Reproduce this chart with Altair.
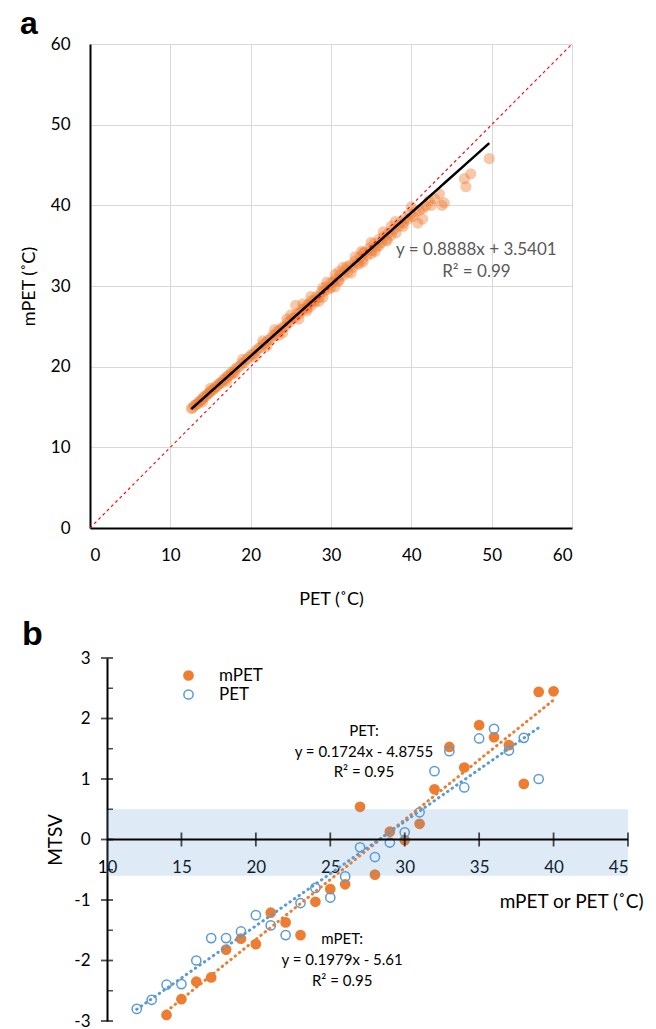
import altair as alt
import pandas as pd

# ---------------- Panel a data ----------------
pet_a = [12.6,12.8,13.0,13.2,13.4,13.6,13.8,14.0,14.2,14.4,
         14.6,14.8,15.0,15.2,15.4,15.6,15.8,16.0,16.2,16.4,
         16.6,16.8,17.0,17.2,17.4,17.6,17.8,18.0,18.0,18.3,
         18.6,18.9,19.2,19.5,19.8,20.1,20.4,20.7,21.0,21.3,
         21.6,21.9,22.2,22.5,22.8,23.1,23.4,23.7,24.0,24.3,
         24.6,24.9,25.2,25.5,25.6,25.8,26.1,26.4,26.7,27.0,
         27.0,27.3,27.5,27.6,27.9,28.0,28.2,28.5,28.8,29.0,
         29.1,29.4,29.7,30.0,30.0,30.3,30.5,30.6,30.9,31.0,
         31.2,31.5,31.8,32.0,32.1,32.4,32.7,33.0,33.3,33.5,
         33.6,33.9,34.0,34.2,34.5,34.8,35.0,35.1,35.4,35.7,
         36.0,36.0,36.3,36.6,36.9,37.2,37.5,37.8,38.1,38.4,
         38.7,39.0,39.3,39.6,39.9,40.2,40.5,40.8,41.0,41.4,
         41.4,41.8,42.2,42.5,42.9,43.5,43.8,44.1,46.6,46.8,
         47.4,49.7,
         20.5,21.5,22.0,23.0,24.0,25.0,26.0,26.5,27.5,28.5,
         29.5,30.5,31.5,32.5,33.0,34.0,35.0,35.5,36.5,37.0,
         38.0,39.0,40.0,37.5,33.8,31.0,29.0,27.0,24.5,23.5,
         19.0,17.0,15.0,14.0]
mpet_a = [14.8,14.9,15.2,15.3,15.4,15.7,15.8,16.0,16.3,16.3,
          16.6,16.7,16.9,17.1,17.2,17.5,17.5,17.8,18.0,18.0,
          18.4,18.4,18.7,18.9,18.9,19.3,19.2,19.6,19.2,19.9,
          20.0,20.4,20.5,20.9,21.2,21.5,21.6,22.0,22.3,22.4,
          22.8,23.0,23.3,23.5,23.9,24.0,24.4,24.6,24.9,25.0,
          25.5,25.6,26.0,26.1,27.6,26.6,26.6,27.1,27.2,27.6,
          27.2,27.8,27.5,28.2,28.2,28.0,28.7,28.6,29.3,29.8,
          29.3,29.9,29.6,30.4,29.8,30.5,31.4,30.9,30.7,30.6,
          31.4,31.3,32.0,32.4,31.7,32.6,32.3,33.1,32.8,32.7,
          33.6,33.3,34.1,34.2,33.8,34.7,34.0,34.4,35.3,34.9,
          35.8,35.0,35.4,36.2,35.8,36.6,36.3,37.0,36.6,37.4,
          37.9,37.8,38.4,38.3,38.9,38.6,39.2,37.8,39.4,38.3,
          39.6,39.9,40.6,40.0,40.8,41.4,40.0,40.3,43.3,42.3,
          43.9,45.8,
          21.2,23.2,22.5,24.6,24.2,26.4,25.9,27.8,28.7,28.1,
          30.5,29.9,32.3,31.6,33.6,33.0,35.4,34.3,36.7,35.6,
          38.0,37.4,39.8,37.4,34.3,31.8,28.6,26.9,25.9,23.9,
          20.9,18.2,17.3,15.6]
diag_a = [0, 60]
slope_a, icpt_a = 0.8888, 3.5401
ticks_a = [0, 10, 20, 30, 40, 50, 60]
eq_a = ["y = 0.8888x + 3.5401", "R² = 0.99"]

# ---------------- Panel b data ----------------
mpet_x = list(range(14, 41))
mpet_y = [-2.90,-2.64,-2.35,-2.28,-1.82,-1.64,-1.73,-1.21,-1.37,-1.58,
          -1.03,-0.82,-0.74,0.54,-0.58,0.13,-0.01,0.26,0.83,1.53,
          1.19,1.89,1.69,1.56,0.92,2.44,2.45]
pet_x = list(range(12, 40))
pet_y = [-2.80,-2.65,-2.40,-2.39,-2.00,-1.63,-1.63,-1.52,-1.25,-1.42,
         -1.58,-1.05,-0.80,-0.96,-0.61,-0.13,-0.29,-0.05,0.12,0.45,
         1.13,1.46,0.86,1.67,1.83,1.47,1.68,1.00]
slope_m, icpt_m = 0.1979, -5.61
slope_p, icpt_p = 0.1724, -4.8755
band_x = [10, 45]
band_y = [-0.6, 0.5]
xticks_b = [10, 15, 20, 25, 30, 35, 40, 45]
yticks_b = [-3, -2, -1, 0, 1, 2, 3]
yminor_b = [-2.5, -1.5, -0.5, 0.5, 1.5, 2.5]
eq_pet = ["PET:", "y = 0.1724x - 4.8755", "R² = 0.95"]
eq_mpet = ["mPET:", "y = 0.1979x - 5.61", "R² = 0.95"]

ORANGE = "#ED7D31"
BLUE = "#5B9BD5"
FONT = "Lato"

# ================= Panel a =================
WA, HA = 482, 484
df_a = pd.DataFrame({"PET": pet_a, "mPET": mpet_a})
sx_a = alt.Scale(domain=[0, 60], nice=False)
sy_a = alt.Scale(domain=[0, 60], nice=False)
xa = alt.X("PET:Q", scale=sx_a,
           axis=alt.Axis(values=ticks_a, title="PET (˚C)", grid=True, gridColor="#d9d9d9",
                         gridWidth=1, domainColor="black", domainWidth=2, ticks=False, tickSize=0,
                         labelPadding=19, labelFontSize=17, titleFontSize=18, titlePadding=27))
ya = alt.Y("mPET:Q", scale=sy_a,
           axis=alt.Axis(values=ticks_a, title="mPET (˚C)", grid=True, gridColor="#d9d9d9",
                         gridWidth=1, domainColor="black", domainWidth=2, ticks=False, tickSize=0,
                         labelPadding=20, labelFontSize=17, titleFontSize=18, titlePadding=12))

pts_a = alt.Chart(df_a).mark_circle(size=125, color=ORANGE, opacity=0.42).encode(x=xa, y=ya)
fit_a = alt.Chart(df_a).transform_calculate(
    mPET=f"{slope_a}*datum.PET + {icpt_a}"
).mark_line(color="black", strokeWidth=2.5).encode(x="PET:Q", y="mPET:Q")
diag_df = pd.DataFrame({"PET": diag_a, "mPET": diag_a})
one_a = alt.Chart(diag_df).mark_line(color="#FF0000", strokeWidth=1.1, strokeDash=[3, 3]).encode(
    x="PET:Q", y="mPET:Q")
txt_a = alt.Chart(pd.DataFrame({"t": eq_a, "PET": [48.1, 48.1], "mPET": [34.5, 31.7]})).mark_text(
    font=FONT, fontSize=17, color="#595959", align="center", baseline="middle").encode(
    x="PET:Q", y="mPET:Q", text="t:N")
lab_a = alt.Chart(pd.DataFrame({"t": ["a"]})).mark_text(
    font="Liberation Sans", fontSize=32, fontWeight="bold", color="black",
    align="left", baseline="alphabetic").encode(
    x=alt.value(-70), y=alt.value(-10), text="t:N")

panel_a = alt.layer(pts_a, one_a, fit_a, txt_a, lab_a).properties(width=WA, height=HA)

# ================= Panel b =================
WB, HB = 538, 363
b_xmin = 45 - WB * 35 / 521
df_b = pd.DataFrame({
    "series": ["mPET"] * len(mpet_x) + ["PET"] * len(pet_x),
    "x": mpet_x + pet_x,
    "y": mpet_y + pet_y,
})
xsb = alt.Scale(domain=[b_xmin, 45], nice=False, zero=False)
ysb = alt.Scale(domain=[-3, 3], nice=False)
xb = alt.X("x:Q", scale=xsb,
           axis=alt.Axis(values=xticks_b, offset=-HB / 2, domain=False, ticks=False, tickSize=0,
                         grid=False, labelPadding=20, labelFontSize=17,
                         title="mPET or PET (˚C)", titleFontSize=19, titleAlign="right",
                         titleAnchor="end", titleBaseline="middle",
                         titleX=553, titleY=62))
yb = alt.Y("y:Q", scale=ysb,
           axis=alt.Axis(values=yticks_b, offset=-17, domainColor="black", domainWidth=2,
                         ticks=False, tickSize=0, grid=False, labelPadding=17, labelFontSize=17,
                         labelExpr="datum.value", title="MTSV", titleFontSize=19, titlePadding=8))
leg = alt.Legend(title=None, orient="none", legendX=90, legendY=9, labelFontSize=17,
                 labelFont=FONT, symbolSize=85, symbolStrokeWidth=1.5, rowPadding=1,
                 labelOffset=22, symbolType="circle", padding=0)
pts_b = alt.Chart(df_b).mark_point(shape="circle", size=85, strokeWidth=1.5, opacity=1).encode(
    x=xb, y=yb,
    fill=alt.Fill("series:N", scale=alt.Scale(domain=["mPET", "PET"], range=[ORANGE, "transparent"]),
                  legend=leg),
    stroke=alt.Stroke("series:N", scale=alt.Scale(domain=["mPET", "PET"], range=[ORANGE, BLUE]),
                      legend=leg))
band_df = pd.DataFrame({"x": [band_x[0]], "x2": [band_x[1]], "y": [band_y[0]], "y2": [band_y[1]]})
band = alt.Chart(band_df).mark_rect(color=BLUE, opacity=0.2).encode(
    x="x:Q", x2="x2:Q", y="y:Q", y2="y2:Q")
trend_m = alt.Chart(df_b).transform_filter("datum.series == 'mPET'").transform_calculate(
    y=f"{slope_m}*datum.x + ({icpt_m})"
).mark_line(color=ORANGE, strokeWidth=3, strokeDash=[0.5, 5], strokeCap="round").encode(
    x="x:Q", y="y:Q")
trend_p = alt.Chart(df_b).transform_filter("datum.series == 'PET'").transform_calculate(
    y=f"{slope_p}*datum.x + ({icpt_p})"
).mark_line(color=BLUE, strokeWidth=3, strokeDash=[0.5, 5], strokeCap="round").encode(
    x="x:Q", y="y:Q")
xline = alt.Chart(pd.DataFrame({"x": [band_x[0]], "x2": [band_x[1]]})).mark_rule(
    color="black", strokeWidth=2).encode(x="x:Q", x2="x2:Q", y=alt.datum(0))
xt = alt.Chart(pd.DataFrame({"x": xticks_b[1:]})).mark_tick(
    orient="vertical", size=14, thickness=1.8, color="black").encode(
    x="x:Q", y=alt.datum(0))
yt = alt.Chart(pd.DataFrame({"y": yticks_b})).mark_tick(
    orient="horizontal", size=12, thickness=1.8, color="black").encode(
    y="y:Q", x=alt.datum(10))
ym = alt.Chart(pd.DataFrame({"y": yminor_b})).mark_tick(
    orient="horizontal", size=6, thickness=1.5, color="black", xOffset=3).encode(
    y="y:Q", x=alt.datum(10))
txt_b = alt.Chart(pd.DataFrame({
    "t": eq_pet + eq_mpet,
    "x": [27.26] * 3 + [25.8] * 3,
    "y": [1.79, 1.45, 1.12, -1.64, -1.99, -2.34],
})).mark_text(font=FONT, fontSize=15, color="black", align="center", baseline="middle").encode(
    x="x:Q", y="y:Q", text="t:N")
lab_b = alt.Chart(pd.DataFrame({"t": ["b"]})).mark_text(
    font="Liberation Sans", fontSize=34, fontWeight="bold", color="black",
    align="left", baseline="alphabetic").encode(
    x=alt.value(-68), y=alt.value(-13), text="t:N")

panel_b = alt.layer(pts_b, band, trend_m, trend_p, xline, xt, yt, ym, txt_b, lab_b).properties(
    width=WB, height=HB)

chart = alt.vconcat(panel_a, panel_b, spacing=10).resolve_scale(
    fill="independent", stroke="independent"
).properties(
    padding={"left": 12, "top": 0, "right": 5, "bottom": 0}
).configure_view(stroke=None).configure_axis(
    labelFont=FONT, titleFont=FONT, labelColor="black", titleColor="black",
    titleFontWeight="normal")

chart.save("out.html", embed_options={"renderer": "svg", "actions": False})
